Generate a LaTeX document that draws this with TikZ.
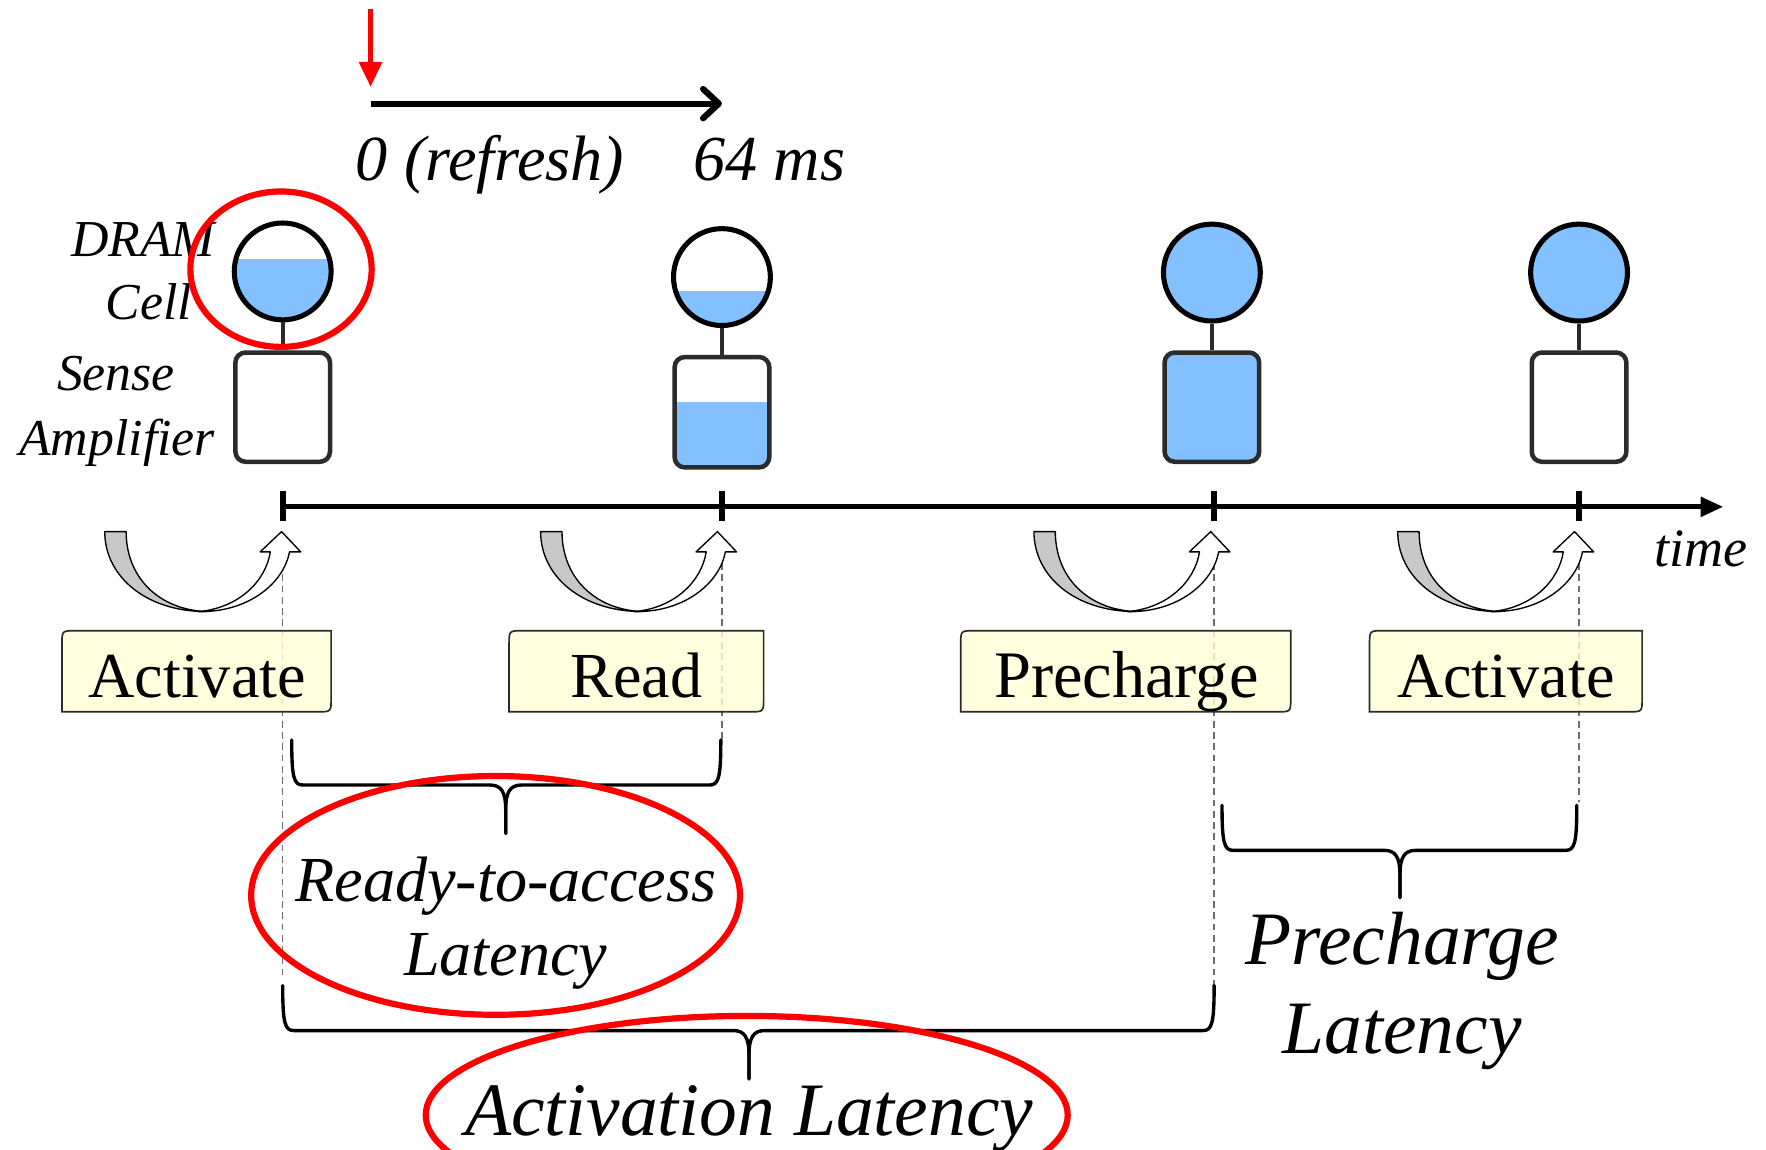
\documentclass[tikz,border=0pt]{standalone}
\usepackage{fontspec}
\setmainfont{Liberation Serif}
\usetikzlibrary{arrows.meta}
\definecolor{cellblue}{RGB}{130,192,255}
\definecolor{boxyellow}{RGB}{255,255,213}
\definecolor{arrowgray}{RGB}{200,200,200}
\definecolor{dashgray}{RGB}{110,110,110}
\definecolor{boxedge}{RGB}{43,43,43}
\definecolor{myred}{RGB}{255,0,0}
\newcommand{\fs}[1]{\fontsize{#1}{#1}\selectfont}
\newcommand{\mybrace}[6]{%
 \draw[bracel] (#1,#4) .. controls (#1,{#5-6}) and ({#1+2},#5) .. ({#1+10},#5) -- ({#3-14},#5) .. controls ({#3-4},#5) and (#3,{#5+6}) .. (#3,{#5+22}) -- (#3,#6);
 \draw[bracel] (#2,#4) .. controls (#2,{#5-6}) and ({#2-2},#5) .. ({#2-10},#5) -- ({#3+14},#5) .. controls ({#3+4},#5) and (#3,{#5+6}) .. (#3,{#5+22}) -- (#3,#6);
}
\newcommand{\cmdarrow}[1]{%
 \begin{scope}[xshift=#1pt]
 \filldraw[ugray] (93,472) -- (112,472) .. controls (112,512) and (140,541) .. (183,543) .. controls (130,543) and (93,512) .. (93,472) -- cycle;
 \filldraw[uwhite] (176,543) .. controls (220,544) and (252,518) .. (257,490) -- (267,490) -- (250,472) -- (231,490) -- (240,490) .. controls (236,516) and (212,540) .. (176,543) -- cycle;
 \end{scope}}
\newcommand{\cmdbox}[4]{% x1 x2 y1 y2
 \filldraw[cmdboxst] (#1,#4) -- (#1,{#3+12}) .. controls (#1,#3) .. ({#1+12},#3) -- (#2,#3) -- (#2,{#4-12}) .. controls (#2,#4) .. ({#2-12},#4) -- cycle;}
\begin{document}
\begin{tikzpicture}[x=1pt,y=-1pt,
  txt/.style={inner sep=0pt, anchor=base},
  lbl/.style={txt, font=\fs{46}\itshape},
  cmdlbl/.style={txt, font=\fs{57}},
  lat/.style={txt, font=\fs{57}\itshape},
  biglat/.style={txt, font=\fs{67}\itshape},
  cellcirc/.style={circle, minimum size=86pt, inner sep=0pt, draw=black, line width=4.5pt},
  sabox/.style={rectangle, rounded corners=9pt, minimum width=84pt, inner sep=0pt, draw=boxedge, line width=4pt},
  stem/.style={draw=boxedge, line width=3.5pt},
  axis/.style={line width=4.3pt, -{Triangle[length=20pt,width=17pt]}},
  tickst/.style={line width=5pt},
  bracel/.style={line width=3pt, line cap=round},
  dashl/.style={dashgray, line width=1.3pt, dash pattern=on 6pt off 4pt},
  ugray/.style={fill=arrowgray, draw=black, line width=1.2pt, line join=round},
  uwhite/.style={fill=white, draw=black, line width=1.2pt, line join=round},
  cmdboxst/.style={fill=boxyellow, fill opacity=0.8, draw=boxedge, line width=1.5pt},
  redring/.style={draw=myred, line width=5.5pt}
]
\clip (0,0) rectangle (1568,1021);
\fill[white] (0,0) rectangle (1568,1021);

% top refresh arrows
\coordinate (r0) at (329,8);
\coordinate (r1) at (329,77);
\draw[myred, line width=4pt, -{Triangle[length=22pt,width=20pt]}] (r0) -- (r1);
\coordinate (b0) at (329,92);
\coordinate (b1) at (641,92);
\draw[line width=5.5pt, -{Straight Barb[length=14pt,width=26pt,round]}] (b0) -- (b1);
\node[txt, font=\fs{57}\itshape] (zero) at (435,160) {0 (refresh)};
\node[txt, font=\fs{57}\itshape] (sixtyfour) at (683,160) {64 ms};

% left labels
\node[lbl] (dram) at (127,228) {DRAM};
\node[lbl] (cell) at (132,284) {Cell};
\node[lbl] (sense) at (103,347) {Sense};
\node[lbl] (ampl) at (104,404) {Amplifier};

% column 1
\begin{scope}\clip (251,241) circle[radius=43pt]; \fill[cellblue] (200,230) rectangle (300,290);\end{scope}
\node[cellcirc] (cell1) at (251,241) {};
\node[sabox, minimum height=97pt] (amp1) at (251,361.5) {};
\draw[stem] (cell1.south) -- (amp1.north);
% column 2
\begin{scope}\clip (641,246) circle[radius=43pt]; \fill[cellblue] (590,258) rectangle (700,300);\end{scope}
\begin{scope}\clip[rounded corners=9pt] (599,317) rectangle (683,415); \fill[cellblue] (590,357) rectangle (700,420);\end{scope}
\node[cellcirc] (cell2) at (641,246) {};
\node[sabox, minimum height=98pt] (amp2) at (641,366) {};
\draw[stem] (cell2.south) -- (amp2.north);
% column 3
\node[cellcirc, fill=cellblue] (cell3) at (1076,242) {};
\node[sabox, minimum height=97pt, fill=cellblue] (amp3) at (1076,361.5) {};
\draw[stem] (cell3.south) -- (amp3.north);
% column 4
\node[cellcirc, fill=cellblue] (cell4) at (1402,242) {};
\node[sabox, minimum height=97pt, fill=white] (amp4) at (1402,361.5) {};
\draw[stem] (cell4.south) -- (amp4.north);

% time axis
\coordinate (t1) at (251,450);
\coordinate (t2) at (641,450);
\coordinate (t3) at (1078,450);
\coordinate (t4) at (1402,450);
\coordinate (tend) at (1530,450);
\draw[axis] (t1) -- (tend);
\draw[tickst] (251,436) -- (251,463);
\draw[tickst] (641,436) -- (641,463);
\draw[tickst] (1078,436) -- (1078,463);
\draw[tickst] (1402,436) -- (1402,463);
\node[txt, font=\fs{48}\itshape] (time) at (1510,503) {time};

% dashed guides
\draw[dashl] (251,490) -- (251,870);
\draw[dashl] (641,490) -- (641,657);
\draw[dashl] (1078,490) -- (1078,876);
\draw[dashl] (1402,490) -- (1402,712);

% curved command arrows
\cmdarrow{0}
\cmdarrow{387}
\cmdarrow{825}
\cmdarrow{1148}

% command boxes
\cmdbox{55}{294}{560}{632}
\cmdbox{452}{678}{560}{632}
\cmdbox{853}{1146}{560}{632}
\cmdbox{1216}{1458}{560}{632}
\node[cmdlbl] (act1) at (175,619) {Activate};
\node[cmdlbl] (read) at (565,619) {Read};
\node[cmdlbl, font=\fs{59}] (pre) at (1000,619) {Precharge};
\node[cmdlbl] (act2) at (1337,619) {Activate};

% braces
\mybrace{259}{640}{449}{657}{697}{740}
\mybrace{1085}{1400}{1243}{715}{755}{797}
\mybrace{251}{1078}{665}{875}{915}{958}

% latency labels
\node[lat] (rta1) at (449,800) {Ready-to-access};
\node[lat] (rta2) at (449,866) {Latency};
\node[biglat] (pl1) at (1245,856) {Precharge};
\node[biglat] (pl2) at (1245,935) {Latency};
\node[biglat] (al) at (665,1008) {Activation Latency};

% red highlight rings
\draw[redring] (249.5,239) ellipse[x radius=80.5pt, y radius=69pt];
\draw[redring] (440,795) ellipse[x radius=217pt, y radius=106pt];
\draw[redring] (663,990) ellipse[x radius=285pt, y radius=88pt];
\end{tikzpicture}
\end{document}
